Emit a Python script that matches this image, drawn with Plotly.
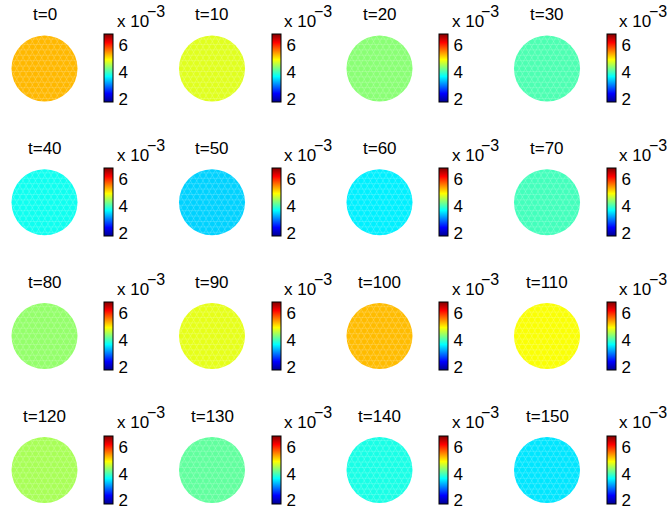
import numpy as np
import plotly.graph_objects as go

# Snapshot times and the mean field value at each (units of 1e-3)
times = [0, 10, 20, 30, 40, 50, 60, 70, 80, 90, 100, 110, 120, 130, 140, 150]
values_e3 = [5.27, 4.76, 4.33, 4.03, 3.72, 3.42, 3.57, 3.98,
             4.38, 4.79, 5.25, 4.89, 4.48, 4.13, 3.77, 3.52]
cbar_ticks = [2, 4, 6]
cbar_labels = ["2", "4", "6"]
c_lo, c_hi = 1.74, 6.82

W, H = 667, 509
FONT = "Liberation Sans, Arial, sans-serif"

# MATLAB-style jet colormap
jet = [[0.0, "rgb(0,0,143)"], [0.125, "rgb(0,0,255)"], [0.375, "rgb(0,255,255)"],
       [0.625, "rgb(255,255,0)"], [0.875, "rgb(255,0,0)"], [1.0, "rgb(128,0,0)"]]

x0, dx = 44.5, 167.5   # disk centre of first column, column pitch (px)
y0, dy = 68.5, 133.8   # disk centre of first row, row pitch (px)
disk_d = 66            # disk diameter (px)
half = 36              # half-size of each subplot box (px)
R = (disk_d / 2) / half  # disk radius in axis units


def mesh_lines(radius, spacing):
    """Chords of three line families (0, 60, 120 deg) clipped to the disk."""
    xs, ys = [], []
    offsets = np.arange(-radius + spacing / 2, radius, spacing)
    for ang in (0.0, np.pi / 3, 2 * np.pi / 3):
        ux, uy = np.cos(ang), np.sin(ang)
        nx, ny = -uy, ux
        for d in offsets:
            h = np.sqrt(max(radius ** 2 - d ** 2, 0.0))
            px, py = nx * d, ny * d
            xs += [px - ux * h, px + ux * h, None]
            ys += [py - uy * h, py + uy * h, None]
    return xs, ys


mx, my = mesh_lines(R * 0.99, 0.15)

fig = go.Figure()
annotations = []
for i, (t, v) in enumerate(zip(times, values_e3)):
    r, c = divmod(i, 4)
    cx = x0 + dx * c
    cy = y0 + dy * r
    k = "" if i == 0 else str(i + 1)
    fig.add_trace(go.Scatter(
        x=[0], y=[0], mode="markers", cliponaxis=False,
        marker=dict(
            size=disk_d, color=[v * 1e-3], colorscale=jet,
            cmin=c_lo * 1e-3, cmax=c_hi * 1e-3, line=dict(width=0),
            showscale=True,
            colorbar=dict(
                x=(cx + 59.5) / W, xanchor="left", xpad=0,
                y=1 - cy / H, yanchor="middle", ypad=0,
                len=68, lenmode="pixels",
                thickness=9, thicknessmode="pixels",
                outlinewidth=1, outlinecolor="black",
                tickvals=[tv * 1e-3 for tv in cbar_ticks], ticktext=cbar_labels,
                ticks="outside", ticklen=2, tickcolor="rgba(0,0,0,0)",
                ticklabeloverflow="allow",
                tickfont=dict(family=FONT, size=17, color="black"),
            ),
        ),
        hoverinfo="skip", showlegend=False,
        xaxis="x" + k, yaxis="y" + k,
    ))
    # faint triangulation edges over the disk
    fig.add_trace(go.Scatter(
        x=mx, y=my, mode="lines",
        line=dict(color="rgba(255,255,255,0.28)", width=0.6),
        hoverinfo="skip", showlegend=False,
        xaxis="x" + k, yaxis="y" + k,
    ))
    dom_x = [(cx - half) / W, (cx + half) / W]
    dom_y = [max(0.0, 1 - (cy + half) / H), min(1.0, 1 - (cy - half) / H)]
    ax = dict(visible=False, range=[-1, 1], fixedrange=True)
    fig.update_layout({
        "xaxis" + k: dict(ax, domain=dom_x, anchor="y" + k),
        "yaxis" + k: dict(ax, domain=dom_y, anchor="x" + k),
    })
    annotations.append(dict(
        x=cx / W, y=1 - (cy - 53.5) / H, xref="paper", yref="paper",
        text=f"t={t}", showarrow=False, xanchor="center", yanchor="middle",
        font=dict(family=FONT, size=17, color="black"),
    ))
    annotations.append(dict(
        x=(cx + 70) / W, y=1 - (cy - 47) / H, xref="paper", yref="paper",
        text="x 10", showarrow=False, xanchor="left", yanchor="middle",
        font=dict(family=FONT, size=17, color="black"),
    ))
    annotations.append(dict(
        x=(cx + 100) / W, y=1 - (cy - 57) / H, xref="paper", yref="paper",
        text="−3", showarrow=False, xanchor="left", yanchor="middle",
        font=dict(family=FONT, size=16, color="black"),
    ))

fig.update_layout(
    width=W, height=H, margin=dict(l=0, r=0, t=0, b=0),
    paper_bgcolor="white", plot_bgcolor="white",
    annotations=annotations,
)

fig.write_html("out.html")
